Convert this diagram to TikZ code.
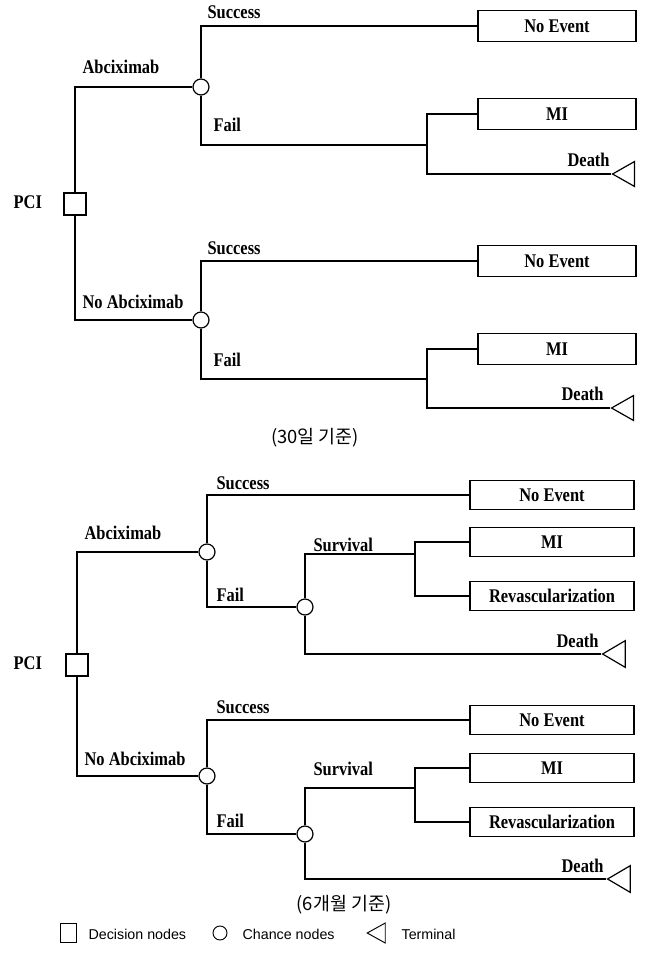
\documentclass[tikz,border=0pt]{standalone}
\usepackage{fontspec}
\setmainfont{Liberation Serif}[FakeStretch=0.85]
\newfontfamily\keyfamily{Liberation Sans}
\newfontfamily\krfamily{Noto Sans CJK KR}
\newcommand{\lblfont}{\bfseries\fontsize{14.5}{16}\selectfont}
\usetikzlibrary{shapes.geometric}

\begin{document}
\begin{tikzpicture}[
	x=0.75pt, y=-0.75pt, line width=0.9pt,
	decision/.style={ rectangle, draw, inner sep=0pt, minimum size=16.5pt },
	chance/.style={ circle, draw, fill=white, inner sep=0pt, minimum size=12pt },
	terminal/.style={ isosceles triangle, draw, shape border rotate=180, isosceles triangle stretches, inner sep=0pt, minimum width=18.75pt, minimum height=16.5pt, anchor=apex },
	outcome/.style={ rectangle, draw, inner sep=0pt, minimum width=118.5pt, minimum height=23pt, font=\lblfont },
	branch/.style={ inner sep=0pt, anchor=base west, font=\lblfont },
	caption/.style={ inner sep=0pt, font=\krfamily\fontsize{13.8}{16}\selectfont },
	key/.style={ inner sep=0pt, anchor=west, font=\keyfamily\fontsize{10.7}{12}\selectfont }
]
\useasboundingbox (0,0) rectangle (646,953);

% 30 days
\node at (75,204) (pcia) [decision] {};
\node at (13,208) (pcialab) [branch] {PCI};
\node at (201,87) (ca) [chance] {};
\node at (201,320) (cb) [chance] {};
\node at (82,73) (abcalab) [branch] {Abciximab};
\node at (82,308) (noabcblab) [branch] {No Abciximab};
\node at (207,18) (sucalab) [branch] {Success};
\node at (213,131) (failalab) [branch] {Fail};
\node at (207,254) (sucblab) [branch] {Success};
\node at (213,366) (failblab) [branch] {Fail};
\node at (557,26) (nea) [outcome] {No Event};
\node at (557,114) (mia) [outcome] {MI};
\node at (557,261) (neb) [outcome] {No Event};
\node at (557,349) (mib) [outcome] {MI};
\coordinate (ja) at (427,145);
\coordinate (jb) at (427,379);
\node at (611,174) (ta) [terminal] {};
\node at (610,408) (tb) [terminal] {};
\node at (567,166) (deathalab) [branch] {Death};
\node at (561,400) (deathblab) [branch] {Death};
\draw (pcia.north) |- (ca.west);
\draw (pcia.south) |- (cb.west);
\foreach \c/\n in {ca/nea,cb/neb} \draw (\c.north) |- (\n.west);
\foreach \c/\j/\m in {ca/ja/mia,cb/jb/mib} \draw (\c.south) |- (\j) |- (\m.west);
\foreach \j/\t in {ja/ta,jb/tb} \draw (\j) |- (\t.apex);
\node at (315,438) (capa) [caption] {(30일 기준)};

% 6 months
\node at (77,665) (pcic) [decision] {};
\node at (13,669) (pciclab) [branch] {PCI};
\node at (207,552) (cc) [chance] {};
\node at (207,776) (cd) [chance] {};
\node at (305,607) (fc) [chance] {};
\node at (305,834) (fd) [chance] {};
\node at (84,539) (abcclab) [branch] {Abciximab};
\node at (84,765) (noabcdlab) [branch] {No Abciximab};
\node at (216,489) (succlab) [branch] {Success};
\node at (216,601) (failclab) [branch] {Fail};
\node at (216,713) (sucdlab) [branch] {Success};
\node at (216,827) (faildlab) [branch] {Fail};
\node at (313,551) (survclab) [branch] {Survival};
\node at (313,775) (survdlab) [branch] {Survival};
\node at (552,495) (nec) [outcome, minimum width=123pt, minimum height=22pt] {No Event};
\node at (552,542) (mic) [outcome, minimum width=123pt, minimum height=22pt] {MI};
\node at (552,596) (rvc) [outcome, minimum width=123pt, minimum height=22pt] {Revascularization};
\node at (552,720) (ned) [outcome, minimum width=123pt, minimum height=22pt] {No Event};
\node at (552,768) (mid) [outcome, minimum width=123pt, minimum height=22pt] {MI};
\node at (552,822) (rvd) [outcome, minimum width=123pt, minimum height=22pt] {Revascularization};
\coordinate (jc) at (415,554);
\coordinate (jd) at (415,788);
\node at (601,654) (tc) [terminal, minimum width=20pt, minimum height=17pt] {};
\node at (606,879) (td) [terminal, minimum width=20pt, minimum height=17pt] {};
\node at (556,647) (deathclab) [branch] {Death};
\node at (561,872) (deathdlab) [branch] {Death};
\draw (pcic.north) |- (cc.west);
\draw (pcic.south) |- (cd.west);
\foreach \c/\n in {cc/nec,cd/ned} \draw (\c.north) |- (\n.west);
\foreach \c/\f in {cc/fc,cd/fd} \draw (\c.south) |- (\f.west);
\foreach \f/\j in {fc/jc,fd/jd} \draw (\f.north) |- (\j);
\foreach \j/\m/\r in {jc/mic/rvc,jd/mid/rvd} { \draw (\j) |- (\m.west); \draw (\j) |- (\r.west); }
\foreach \f/\t in {fc/tc,fd/td} \draw (\f.south) |- (\t.apex);
\node at (344,905) (capb) [caption] {(6개월 기준)};

% legend
\node at (68,933) (keydec) [decision, line width=0.7pt, minimum width=12pt, minimum height=14pt] {};
\node at (88,934) (keydeclab) [key] {Decision nodes};
\node at (220,933) (keycha) [chance, line width=0.7pt, minimum size=10.5pt] {};
\node at (242,934) (keychalab) [key] {Chance nodes};
\node at (366,933) (keyter) [terminal, line width=0.7pt, minimum width=15pt, minimum height=13.5pt] {};
\node at (401,934) (keyterlab) [key] {Terminal};

\end{tikzpicture}
\end{document}
